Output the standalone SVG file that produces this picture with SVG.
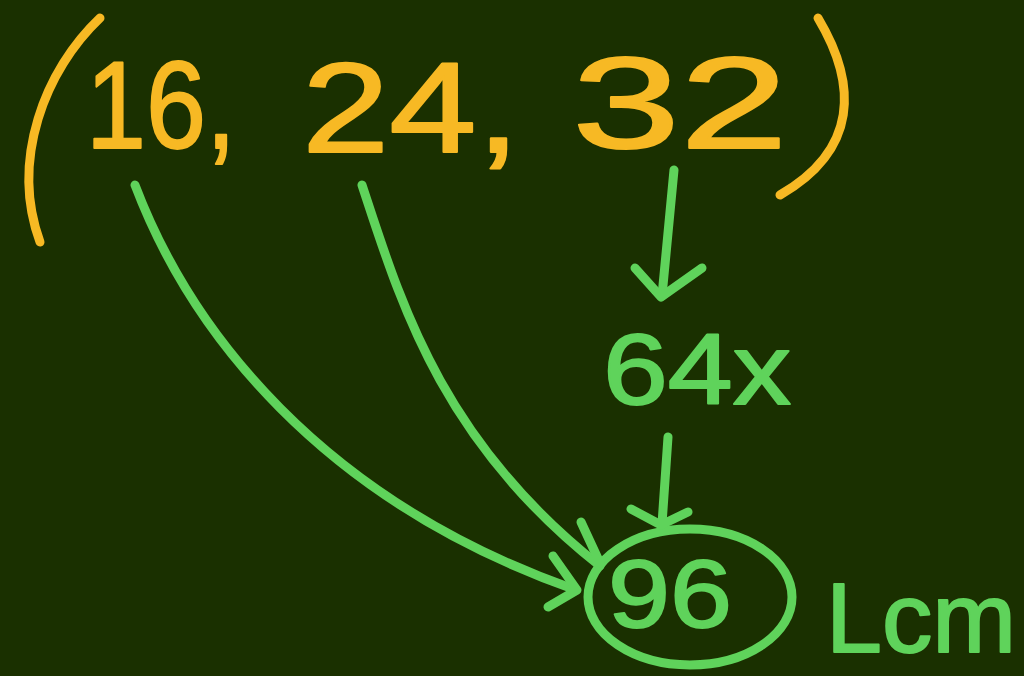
<svg xmlns="http://www.w3.org/2000/svg" width="1024" height="676" viewBox="0 0 1024 676">
<style>
.y{fill:#f7b924;stroke:#f7b924;stroke-width:2;stroke-linejoin:round;font-family:"Liberation Sans","DejaVu Sans",sans-serif}
.g{fill:#5fd35b;stroke:#5fd35b;stroke-width:2;stroke-linejoin:round;font-family:"Liberation Sans","DejaVu Sans",sans-serif}
.ys{fill:none;stroke:#f7b924;stroke-width:9;stroke-linecap:round;stroke-linejoin:round}
.gs{fill:none;stroke:#5fd35b;stroke-width:9;stroke-linecap:round;stroke-linejoin:round}
</style>
<rect width="1024" height="676" fill="#1a3000"/>
<g id="set">
<path class="ys" d="M100,18 C45,70 10,160 40,242"/>
<text class="y" x="86" y="148" font-size="124" textLength="150" lengthAdjust="spacingAndGlyphs">16,</text>
<text class="y" x="302" y="152" font-size="128" textLength="218" lengthAdjust="spacingAndGlyphs">24,</text>
<text class="y" x="572" y="148" font-size="130" textLength="216" lengthAdjust="spacingAndGlyphs">32</text>
<path class="ys" d="M818,18 C858,85 858,150 780,195"/>
</g>
<g id="n64x">
<text class="g" x="603" y="404" font-size="100" textLength="188" lengthAdjust="spacingAndGlyphs">64x</text>
</g>
<g id="n96">
<ellipse class="gs" cx="690" cy="597" rx="102" ry="68"/>
<text class="g" x="608" y="627" font-size="96" textLength="124" lengthAdjust="spacingAndGlyphs">96</text>
</g>
<g id="lcm">
<text class="g" x="826" y="652" font-size="98" textLength="190" lengthAdjust="spacingAndGlyphs">Lcm</text>
</g>
<g id="connectors">
<path class="gs" d="M135,185 C190,330 320,500 576,590"/>
<path class="gs" d="M553,556 L577,590 L548,607"/>
<path class="gs" d="M362,185 C400,300 440,440 600,566"/>
<path class="gs" d="M581,522 L600,563"/>
<path class="gs" d="M674,170 L662,296"/>
<path class="gs" d="M635,268 L661,297 L702,268"/>
<path class="gs" d="M668,437 L662,524"/>
<path class="gs" d="M631,509 L661,525 L688,512"/>
</g>
</svg>
